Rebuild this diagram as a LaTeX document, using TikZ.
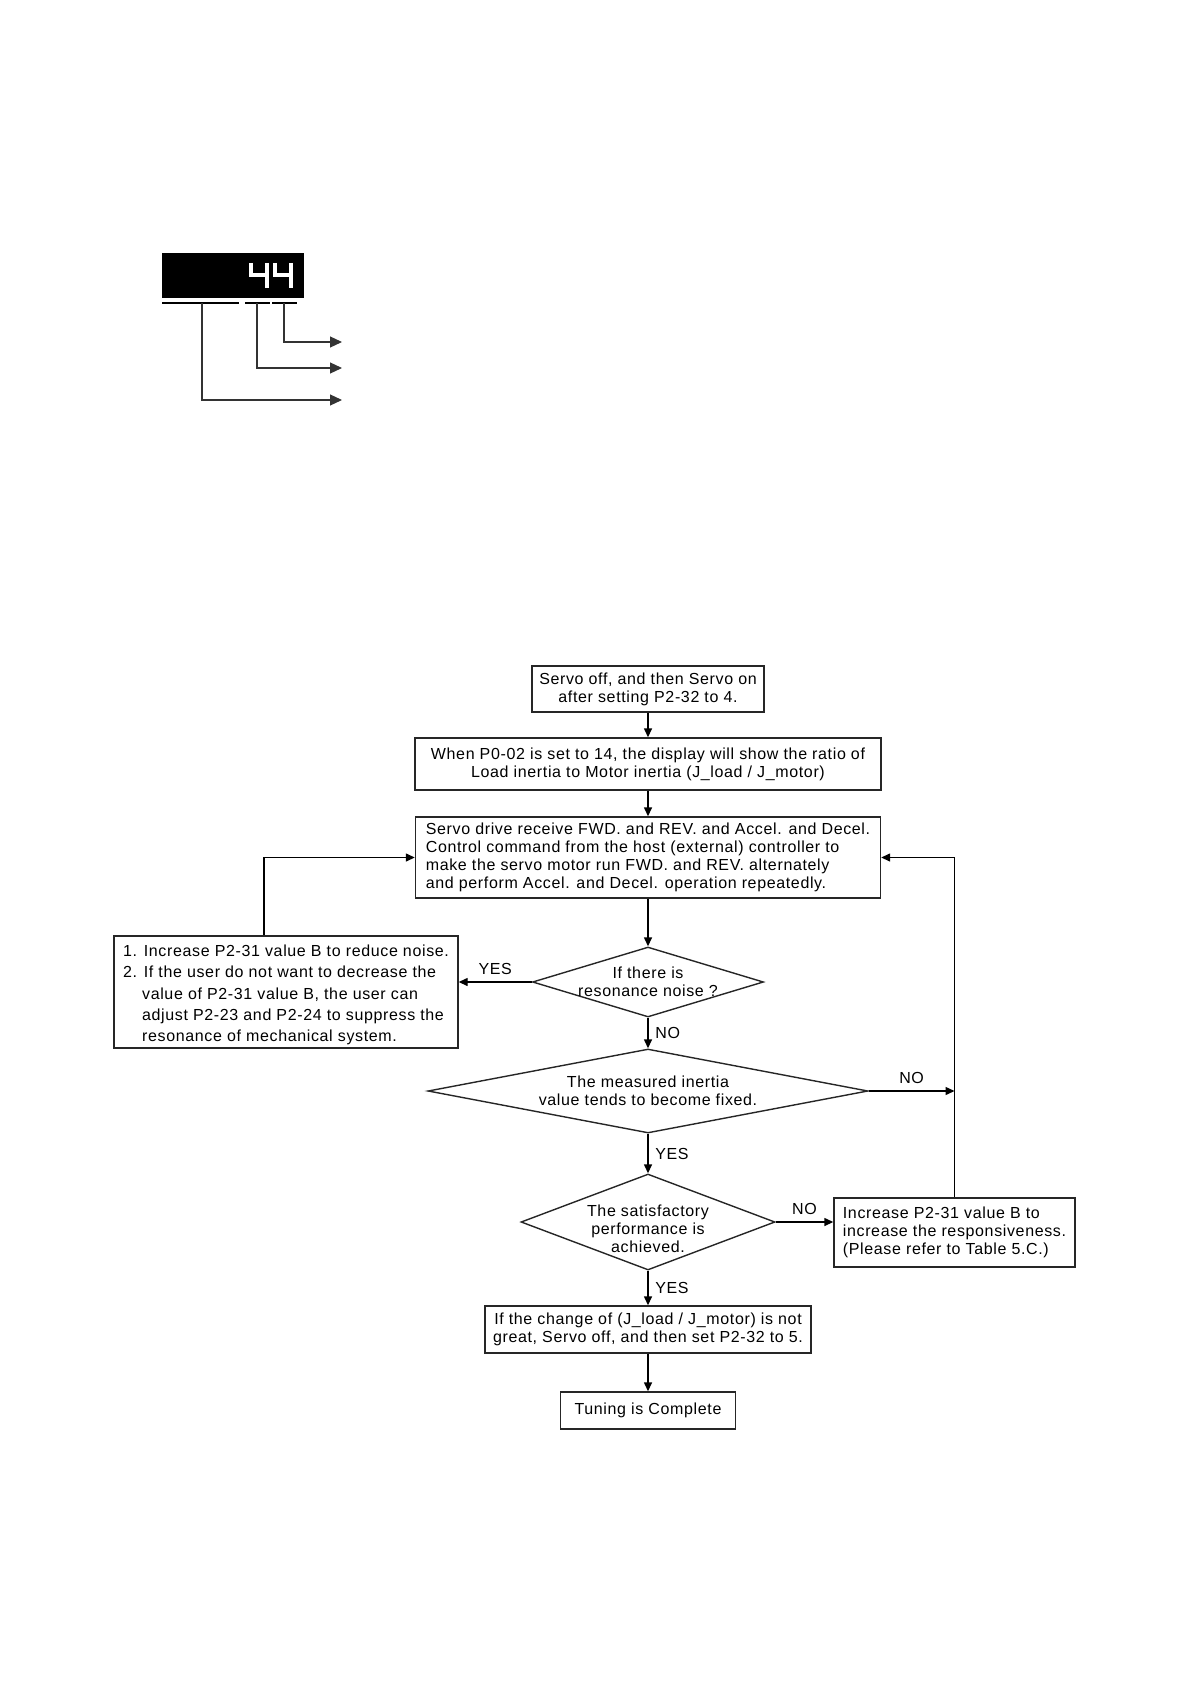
\documentclass[tikz,border=0pt]{standalone}
\usepackage{fontspec}
\setmainfont{Liberation Sans}[LetterSpace=4]
\usetikzlibrary{arrows.meta,
                shapes.geometric}

\begin{document}
\begin{tikzpicture}[
x=0.5pt, y=-0.5pt,
every node/.style = {font=\fontsize{8}{9}\selectfont},
box/.style        = {draw=black!85, line width=0.7pt,
                     align=center, inner sep=2pt},
decision/.style   = {diamond, draw=black!85, line width=0.7pt,
                     inner sep=0pt},
arr/.style        = {-{Triangle[length=4.5pt, width=4pt]},
                     line width=0.7pt},
big arr/.style    = {-{Triangle[length=6pt, width=5.5pt]},
                     line width=0.6pt, black!80}
                   ]
\useasboundingbox (0,0) rectangle (1190,1684);

% display
\node[fill=black, minimum width=71pt, minimum height=22.5pt,
      inner sep=0pt] (disp) at (233,275.5) {};
\foreach \dx in {0,24}
  \draw[white, line width=2pt]
        (251+\dx,263) -- (251+\dx,275) -- (267+\dx,275)
        (267+\dx,263) -- (267+\dx,288);
\draw[line width=0.6pt] (162,303) -- (239,303)
                        (245,303) -- (270,303)
                        (272,303) -- (297,303);
\foreach \sx/\ty [count=\i] in {284/342, 257/368, 202/400}
  {
  \coordinate (seg\i) at (\sx,303);
  \coordinate (tip\i) at (342,\ty);
  \draw[big arr] (seg\i) |- (tip\i);
  }

% flow chart
\node[box, minimum width=116pt, minimum height=23pt] (setup) at (648,689)
     {Servo off, and then Servo on\\after setting P2-32 to 4.};
\node[box, minimum width=233pt, minimum height=26pt] (ratio) at (648,764)
     {When P0-02 is set to 14, the display will show the ratio of\\
      Load inertia to Motor inertia (J\_load / J\_motor)};
\node[box, align=left, minimum width=232.5pt, minimum height=40.5pt] (cmd) at (648,857.5)
     {Servo drive receive FWD. and REV. and Accel. and Decel.\\
      Control command from the host (external) controller to\\
      make the servo motor run FWD. and REV. alternately\\
      and perform Accel. and Decel. operation repeatedly.};
\node[decision, minimum width=115.5pt, minimum height=35pt,
      label={[align=center]center:{If there is\\resonance noise ?}}] (noise) at (648,982) {};
\node[box, align=left, minimum width=172pt, minimum height=56pt,
      font=\fontsize{8}{10.7}\selectfont,
      label={[align=left, font=\fontsize{8}{10.7}\selectfont, yshift=-1.5pt]center:{%
      1. Increase P2-31 value B to reduce noise.\\
      2. If the user do not want to decrease the\\
      \hphantom{2.\ }value of P2-31 value B, the user can\\
      \hphantom{2.\ }adjust P2-23 and P2-24 to suppress the\\
      \hphantom{2.\ }resonance of mechanical system.}}] (fix) at (286,992) {};
\node[decision, minimum width=220pt, minimum height=42pt,
      label={[align=center]center:{The measured inertia\\value tends to become fixed.}}] (fixed) at (648,1091) {};
\node[decision, minimum width=127pt, minimum height=48pt,
      label={[align=center, yshift=-3.5pt]center:{The satisfactory\\performance is\\achieved.}}] (perf) at (648,1222) {};
\node[box, align=left, minimum width=120.5pt, minimum height=34.5pt] (resp) at (954.5,1232.5)
     {Increase P2-31 value B to\\increase the responsiveness.\\(Please refer to Table 5.C.)};
\node[box, minimum width=163pt, minimum height=23.5pt] (check) at (648,1329.5)
     {If the change of (J\_load / J\_motor) is not\\great, Servo off, and then set P2-32 to 5.};
\node[box, minimum width=87.5pt, minimum height=18.5pt] (done) at (648,1410.5)
     {Tuning is Complete};

\draw[arr] (setup) -- (ratio);
\draw[arr] (ratio) -- (cmd);
\draw[arr] (cmd) -- (noise);
\draw[arr] (noise.west) -- node[above] {YES} (noise.west -| fix.east);
\draw[arr] ([xshift=-11pt]fix.north) |- (cmd.west);
\draw[arr] (noise) -- node[right] {NO} (fixed);
\draw[arr] (fixed.east) -- node[above] {NO} (fixed.east -| resp.north);
\draw[arr] (resp.north) |- (cmd.east);
\draw[arr] (fixed) -- node[right] {YES} (perf);
\draw[arr] (perf.east) -- node[above] {NO} (perf.east -| resp.west);
\draw[arr] (perf) -- node[right] {YES} (check);
\draw[arr] (check) -- (done);

\end{tikzpicture}
\end{document}
